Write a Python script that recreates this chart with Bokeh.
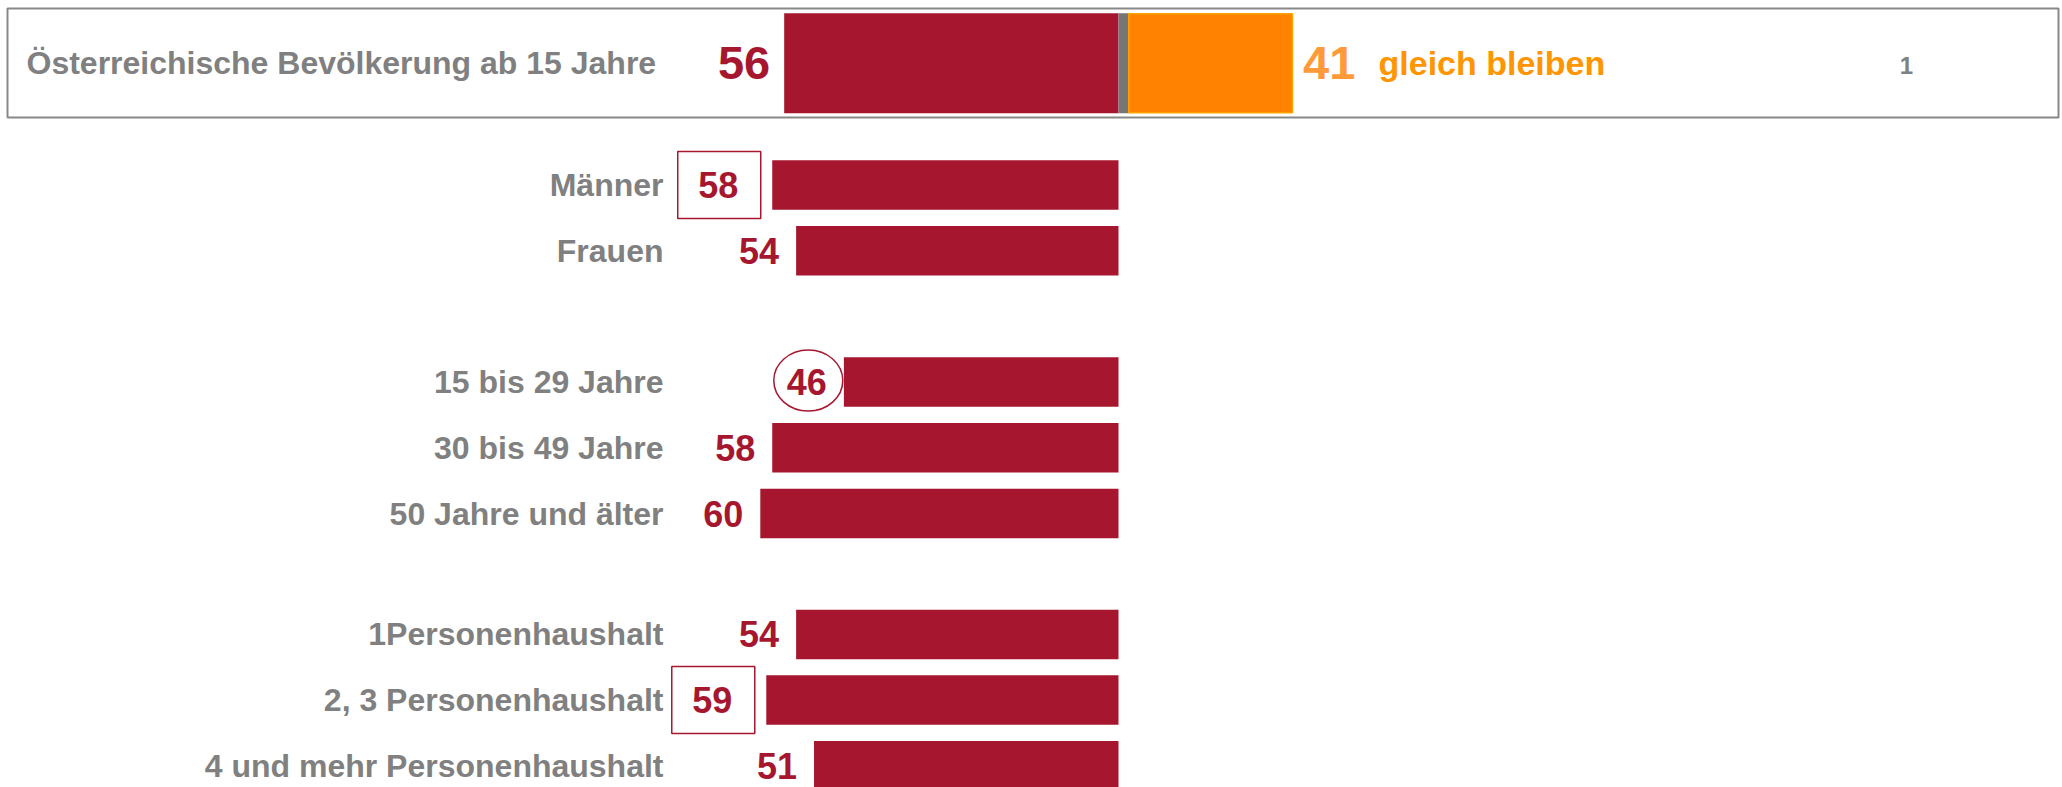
from bokeh.plotting import figure
from bokeh.models import Range1d, ColumnDataSource
from bokeh.core.properties import value
from bokeh.embed import file_html
from bokeh.resources import INLINE

# ---------------- data ----------------
total_label = "Österreichische Bevölkerung ab 15 Jahre"
total_main = 56          # red share
total_same = 41          # "gleich bleiben"
total_other = 1          # remaining share
same_label = "gleich bleiben"

categories = ["Männer", "Frauen",
              "15 bis 29 Jahre", "30 bis 49 Jahre", "50 Jahre und älter",
              "1Personenhaushalt", "2, 3 Personenhaushalt", "4 und mehr Personenhaushalt"]
values = [58, 54, 46, 58, 60, 54, 59, 51]
marks = ["box", "", "circle", "", "", "", "box", ""]   # highlight style per row

# ---------------- layout / style ----------------
W, H = 2062, 787
OX, OY = 0, 0
ZERO_PX = 1118.0          # page x of the bars' zero line
SCALE = 5.97              # px per percentage point (red bars)
O_ZERO = 1128.3           # page x where the orange bar starts
O_SCALE = 3.993           # px per point (orange bar)

ROW_STEP = 65.7
ROW_FIRST = 184.5
slots = [0, 1, 3, 4, 5, 6.84, 7.84, 8.84]
row_y = [ROW_FIRST + s * ROW_STEP for s in slots]
TOP_Y = 62.7

RED = "#A6172F"
GREY = "#808080"
ORANGE = "#FF8300"
FONT = value("Liberation Sans")


def px2x(px):
    return (px - ZERO_PX) / SCALE


p = figure(width=W, height=H,
           x_range=Range1d((OX - ZERO_PX) / SCALE, (OX + W - ZERO_PX) / SCALE),
           y_range=Range1d(OY + H, OY),
           output_backend="svg", toolbar_location=None,
           x_axis_location=None, y_axis_location=None,
           min_border=0, outline_line_color=None,
           background_fill_color="white", border_fill_color="white")
p.xgrid.visible = False
p.ygrid.visible = False
p.extra_x_ranges = {"orange": Range1d((OX - O_ZERO) / O_SCALE, (OX + W - O_ZERO) / O_SCALE)}

# ---------------- header row ----------------
p.quad(left=[px2x(7)], right=[px2x(2058)], top=[8], bottom=[117],
       fill_color=None, line_color="#888888", line_width=2)
p.hbar(y=[TOP_Y], left=[-total_main], right=[0], height=100,
       fill_color=RED, line_color=None)
p.hbar(y=[TOP_Y], left=[0], right=[10.6 / SCALE], height=100,
       fill_color="#767676", line_color=None)
p.hbar(y=[TOP_Y], left=[0], right=[total_same], height=99, x_range_name="orange",
       fill_color=ORANGE, line_color="#FFA200", line_width=1.5)

p.text(x=[px2x(26)], y=[TOP_Y], text=[total_label], text_align="left",
       text_baseline="middle", text_font=FONT, text_font_style="bold",
       text_font_size="32px", text_color=GREY)
p.text(x=[-total_main], y=[TOP_Y], text=[str(total_main)], x_offset=-14,
       text_align="right", text_baseline="middle", text_font=FONT,
       text_font_style="bold", text_font_size="47px", text_color=RED)
p.text(x=[total_same], y=[TOP_Y], text=[str(total_same)], x_offset=10.5,
       x_range_name="orange", text_align="left", text_baseline="middle",
       text_font=FONT, text_font_style="bold", text_font_size="47px",
       text_color="#FF9A3A")
p.text(x=[total_same], y=[TOP_Y], text=[same_label], x_offset=86,
       x_range_name="orange", text_align="left", text_baseline="middle",
       text_font=FONT, text_font_style="bold", text_font_size="34px",
       text_color="#FF9500")
p.text(x=[px2x(1906)], y=[TOP_Y + 2], text=[str(total_other)], text_align="center",
       text_baseline="middle", text_font=FONT, text_font_style="bold",
       text_font_size="24px", text_color=GREY)

# ---------------- sub-group bars ----------------
src = ColumnDataSource(dict(
    y=row_y,
    left=[-v for v in values],
    cat=categories,
    lab=[str(v) for v in values],
    xoff=[-34 if m == "box" else -17 for m in marks],
))
p.hbar(y="y", left="left", right=0, height=49.5, source=src,
       fill_color=RED, line_color=None)
p.text(x=px2x(663), y="y", text="cat", source=src, text_align="right",
       text_baseline="middle", text_font=FONT, text_font_style="bold",
       text_font_size="32px", text_color=GREY)
p.text(x="left", y="y", text="lab", x_offset="xoff", source=src,
       text_align="right", text_baseline="middle", text_font=FONT,
       text_font_style="bold", text_font_size="36px", text_color=RED)

box_x = [-v - 53 / SCALE for v, m in zip(values, marks) if m == "box"]
box_y = [y for y, m in zip(row_y, marks) if m == "box"]
p.rect(x=box_x, y=box_y, width=83, height=67, width_units="screen",
       height_units="screen", fill_color=None, line_color=RED, line_width=1.5)

circ_x = [-v - 35.6 / SCALE for v, m in zip(values, marks) if m == "circle"]
circ_y = [y - 1.5 for y, m in zip(row_y, marks) if m == "circle"]
p.ellipse(x=circ_x, y=circ_y, width=69, height=61, width_units="screen",
          height_units="screen", fill_color=None, line_color=RED, line_width=1.5)

open("out.html", "w").write(file_html(p, INLINE))
